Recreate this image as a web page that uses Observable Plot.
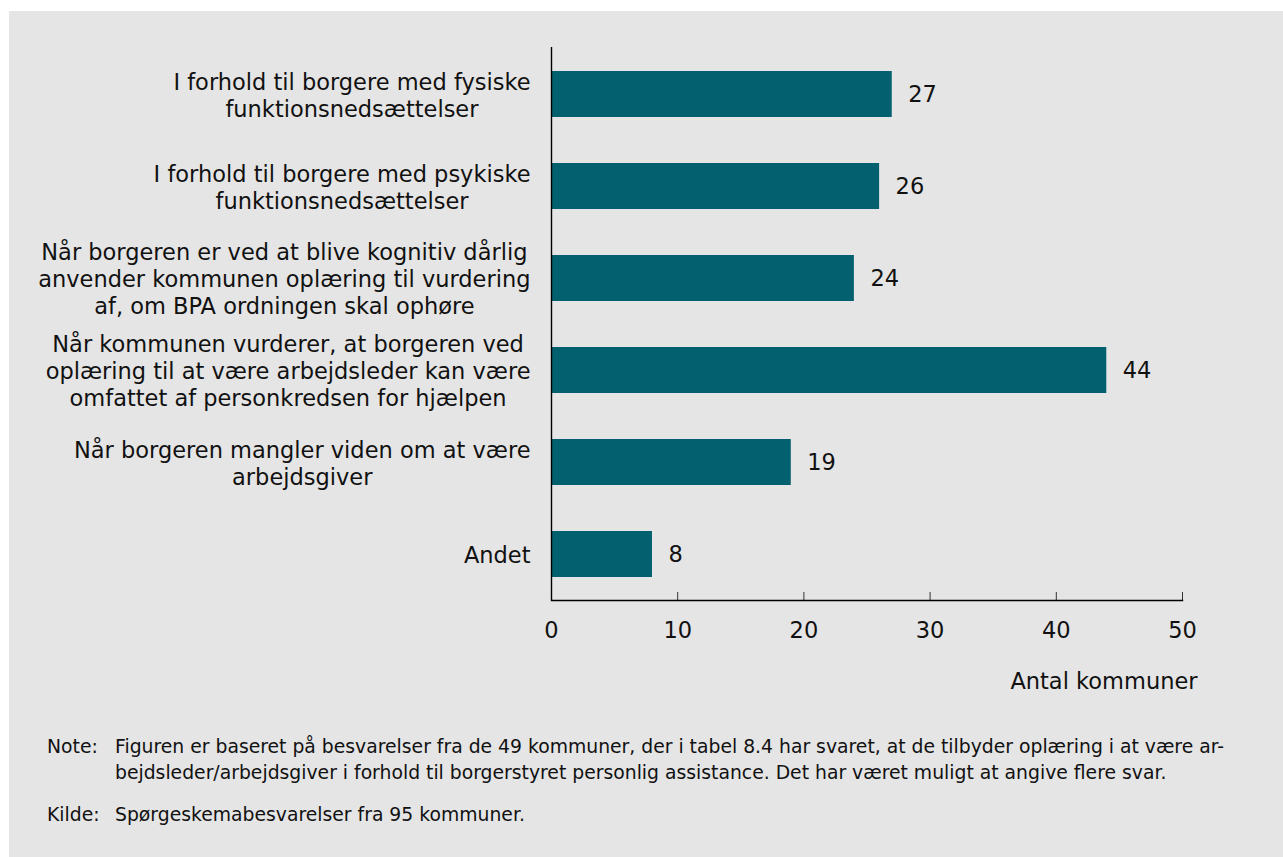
<!DOCTYPE html>
<html><head><meta charset="utf-8">
<script src="https://cdn.jsdelivr.net/npm/d3@7"></script>
<script src="https://cdn.jsdelivr.net/npm/@observablehq/plot@0.6"></script>
<style>
html,body{margin:0;padding:0;background:#fff;}
body{width:1283px;height:857px;overflow:hidden;font-family:"DejaVu Sans",Verdana,sans-serif;color:#111;}
#panel{position:absolute;left:9px;top:11px;width:1274px;height:846px;background:#e5e5e5;}
#chart svg{display:block;}
#notes{padding-left:38px;margin-top:23px;font-size:18.8px;line-height:26px;}
.row{display:flex;white-space:nowrap;}
.row + .row{margin-top:16px;}
.lab{width:68px;flex:none;}
</style></head><body>
<div id="panel"><div id="chart"></div>
<div id="notes">
<div class="row"><span class="lab">Note:</span><span>Figuren er baseret på besvarelser fra de 49 kommuner, der i tabel 8.4 har svaret, at de tilbyder oplæring i at være ar-<br>bejdsleder/arbejdsgiver i forhold til borgerstyret personlig assistance. Det har været muligt at angive flere svar.</span></div>
<div class="row"><span class="lab">Kilde:</span><span>Spørgeskemabesvarelser fra 95 kommuner.</span></div>
</div></div>
<script>
const categories = [
  "I forhold til borgere med fysiske\nfunktionsnedsættelser",
  "I forhold til borgere med psykiske\nfunktionsnedsættelser",
  "Når borgeren er ved at blive kognitiv dårlig\nanvender kommunen oplæring til vurdering\naf, om BPA ordningen skal ophøre",
  "Når kommunen vurderer, at borgeren ved\noplæring til at være arbejdsleder kan være\nomfattet af personkredsen for hjælpen",
  "Når borgeren mangler viden om at være\narbejdsgiver",
  "Andet"
];
const values = [27, 26, 24, 44, 19, 8];
const xTicks = [0, 10, 20, 30, 40, 50];
const xLabel = "Antal kommuner";

const fontSize = 22.5;
const data = categories.map((c, i) => ({category: c, value: values[i]}));
const ctx = document.createElement("canvas").getContext("2d");
ctx.font = `${fontSize}px "DejaVu Sans"`;
const labelGap = 21;
const labelMarks = categories.map(c => {
  const w = d3.max(c.split("\n"), l => ctx.measureText(l).width);
  return Plot.text([c], {x: () => 0, y: d => d, text: d => d, textAnchor: "middle", lineAnchor: "middle",
    lineHeight: 1.2, dx: -(labelGap + w / 2), fontSize, fill: "#111"});
});

const chart = Plot.plot({
  width: 1274, height: 700,
  marginLeft: 542, marginRight: 101, marginTop: 36, marginBottom: 111,
  style: {background: "transparent", fontFamily: "'DejaVu Sans', Verdana, sans-serif", fontSize: "22.5px", color: "#111"},
  x: {domain: [0, 50], label: null},
  y: {domain: categories, paddingInner: 0.5, paddingOuter: 0.25, axis: null},
  marks: [
    Plot.barX(data, {x: "value", y: "category", fill: "#03606f"}),
    Plot.text(data, {x: "value", y: "category", text: d => String(d.value), dx: 16, textAnchor: "start", fontSize, fill: "#111"}),
    ...labelMarks,
    Plot.axisX(xTicks, {tickSize: -8, tickFormat: () => "", stroke: "#333", label: null}),
    Plot.axisX(xTicks, {tickSize: 0, tickPadding: 22, fontSize, label: null, fill: "#111"}),
    Plot.ruleX([0], {stroke: "#000", strokeWidth: 1.4}),
    Plot.frame({anchor: "bottom", stroke: "#000", strokeWidth: 1.4}),
    Plot.text([xLabel], {frameAnchor: "bottom-right", text: d => d, textAnchor: "end", lineAnchor: "middle", dx: 15, dy: 81, fontSize, fill: "#111"})
  ]
});
document.getElementById("chart").appendChild(chart);
</script>
</body></html>
